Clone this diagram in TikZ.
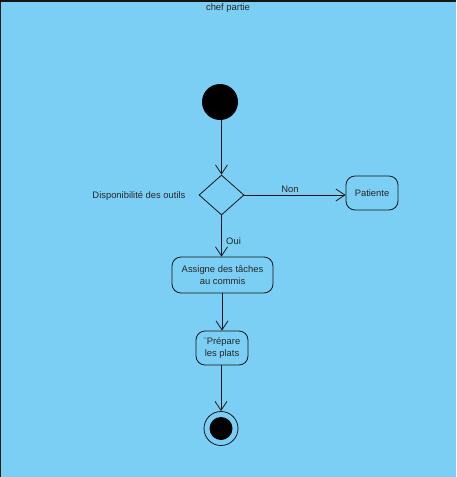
\documentclass[tikz,border=0pt]{standalone}
\usepackage{fontspec}
\setmainfont{Liberation Sans}
\usetikzlibrary{arrows.meta,shapes.geometric}
\definecolor{poolfill}{RGB}{123,207,245}
\definecolor{inkline}{RGB}{20,20,20}
\begin{document}
\begin{tikzpicture}[x=1pt,y=-1pt,
  every node/.style={font=\fontsize{9.4}{11.5}\selectfont, text=black!85},
  flow/.style={draw=inkline, line width=0.8pt, -{Straight Barb[length=9pt,width=12pt,line width=0.8pt]}},
  action/.style={draw=inkline, line width=0.8pt, rounded corners=9pt, fill=poolfill, align=center, inner sep=0pt}]
  % swimlane background
  \fill[poolfill] (0,0) rectangle (456,477);
  \useasboundingbox (0,0) rectangle (456,477);
  \draw[inkline, line width=2pt] (0,477) -- (0,1) -- (456,1);
  \node (lane) at (228,8) {chef partie};

  % initial state
  \node[circle, fill=black, minimum size=36pt, inner sep=0pt] (start) at (220,102) {};

  % decision
  \node[diamond, draw=inkline, line width=0.8pt, fill=poolfill, minimum width=45pt, minimum height=40pt, inner sep=0pt] (dec) at (221.5,195) {};
  \node[anchor=east] (declbl) at (189,196) {Disponibilité des outils};

  % actions
  \node[action, minimum width=52pt, minimum height=34pt] (wait) at (372,193) {Patiente};
  \node[action, minimum width=101pt, minimum height=36pt] (assign) at (222.5,275) {Assigne des tâches\\au commis};
  \node[action, minimum width=52pt, minimum height=34pt] (prep) at (222,348) {¨Prépare\\les plats};

  % final state
  \node[circle, draw=inkline, line width=0.8pt, minimum size=34pt, inner sep=0pt] (end) at (221,428.5) {};
  \node[circle, fill=black, minimum size=23pt, inner sep=0pt] (endin) at (221,428.5) {};

  % flows
  \draw[flow] (start.south -| dec.north) -- (dec.north);
  \draw[flow] (dec.east) -- node[above, pos=0.45, yshift=-1pt] (non) {Non} (wait.west |- dec.east);
  \draw[flow] (dec.south) -- node[right, pos=0.62, xshift=1pt] (oui) {Oui} (dec.south |- assign.north);
  \draw[flow] (assign.south -| prep.north) -- (prep.north);
  \draw[flow] (prep.south -| end.north) -- (end.north);
\end{tikzpicture}
\end{document}
